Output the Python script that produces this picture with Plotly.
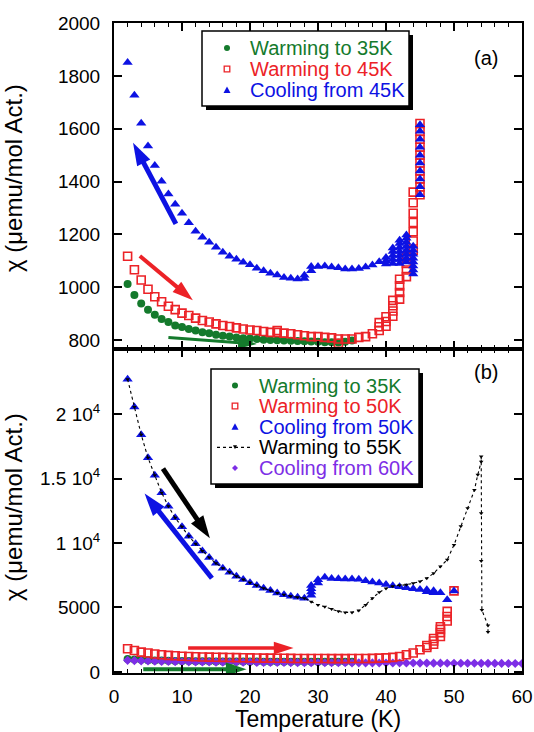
import plotly.graph_objects as go

# ---------------- data ----------------
# Panel (a)
T_a_w35 = list(range(2, 36))
chi_a_w35 = [1012, 970, 938, 915, 896, 880, 868, 855, 849, 842, 836, 829, 826, 820,
             816, 813, 810, 807, 806, 804, 801, 800, 799, 798, 797, 796, 795, 794,
             793, 792, 792, 791, 793, 798]

T_a_w45 = [2, 3, 4, 5, 6, 7, 8, 9, 10, 11, 12, 13, 14, 15, 16, 17, 18, 19, 20, 21, 22, 23,
           24, 24, 25, 26, 27, 28, 29, 30, 31, 32, 33, 33, 34, 35, 36, 37, 38,
           39, 39, 39, 40, 40, 40, 41, 41, 41, 41, 42, 42, 42, 42, 43, 43, 43, 43,
           44, 44, 44, 44, 44, 44, 44,
           45, 45, 45, 45, 45, 45, 45, 45, 45, 45]
chi_a_w45 = [1117, 1066, 1027, 992, 964, 945, 928, 915, 902, 893, 883, 874, 868, 861, 855,
             851, 846, 842, 838, 836, 832, 829,
             829, 836, 826, 824, 820, 816, 813, 813, 810, 808, 804, 788, 804, 804, 810, 813, 824,
             836, 850, 866, 852, 870, 888, 890, 910, 930, 950, 955, 980, 1005, 1030,
             1040, 1065, 1090, 1115,
             1140, 1175, 1210, 1245, 1280, 1320, 1360,
             1350, 1380, 1410, 1440, 1470, 1500, 1530, 1560, 1590, 1620]

T_a_c45 = [2, 3, 4, 5, 6, 7, 8, 9, 10, 11, 12, 13, 14, 15, 16, 17, 18, 19, 20, 21, 22, 23,
           24, 25, 26, 27, 28, 28, 29, 29, 30, 31, 32, 33, 34, 35, 36, 37, 38, 39,
           40, 40, 40, 41, 41, 41, 41, 41, 42, 42, 42, 42, 42, 42, 42,
           43, 43, 43, 43, 43, 43, 43, 43, 44, 44, 44, 44, 44, 44, 44, 44,
           45, 45, 45, 45, 45, 45, 45, 45, 45, 45]
chi_a_c45 = [1851, 1727, 1621, 1535, 1461, 1401, 1353, 1314, 1280, 1244, 1212, 1189, 1170,
             1151, 1132, 1117, 1106, 1094, 1085, 1072, 1062, 1053, 1046, 1037, 1034, 1031,
             1033, 1045, 1062, 1078, 1078, 1080, 1076, 1074, 1069, 1069, 1071, 1076, 1084, 1096,
             1088, 1100, 1112, 1090, 1105, 1120, 1135, 1148,
             1090, 1105, 1120, 1135, 1150, 1165, 1178,
             1095, 1110, 1125, 1140, 1155, 1170, 1185, 1198,
             1050, 1065, 1080, 1095, 1110, 1125, 1140, 1155,
             1350, 1380, 1410, 1440, 1470, 1500, 1530, 1560, 1590, 1615]

# Panel (b)
T_b_w35 = list(range(2, 36))
chi_b_w35 = [1012, 970, 938, 915, 896, 880, 868, 855, 849, 842, 836, 829, 826, 820,
             816, 813, 810, 807, 806, 804, 801, 800, 799, 798, 797, 796, 795, 794,
             793, 792, 792, 791, 793, 798]

T_b_w50 = [2, 3, 4, 5, 6, 7, 8, 9, 10, 11, 12, 13, 14, 15, 16, 17, 18, 19, 20, 21, 22, 23,
           24, 25, 26, 27, 28, 29, 30, 31, 32, 33, 34, 35, 36, 37, 38, 39, 40, 41, 42, 43,
           44, 45, 46, 46, 47, 47, 47, 48, 48, 48, 48, 49, 49, 49, 50]
chi_b_w50 = [1800, 1670, 1540, 1470, 1390, 1340, 1290, 1260, 1220, 1200, 1180, 1160, 1150,
             1140, 1130, 1120, 1110, 1100, 1090, 1080, 1075, 1070, 1065, 1060, 1055, 1050,
             1050, 1045, 1040, 1040, 1035, 1035, 1035, 1040, 1040, 1045, 1055, 1070, 1095,
             1130, 1200, 1340, 1470, 1720, 1900, 2050, 2150, 2400, 2600, 2750, 3050, 3300,
             3500, 3950, 4300, 4700, 6290]

T_b_c50 = [2, 3, 4, 5, 6, 7, 8, 9, 10, 11, 12, 13, 14, 15, 16, 17, 18, 19, 20, 21, 22, 23,
           24, 25, 26, 27, 28, 29, 29, 29, 29, 30, 30, 31, 32, 33, 34, 35, 36, 37, 38, 39,
           40, 41, 42, 43, 44, 45, 46, 46, 47, 47, 48, 49, 50]
chi_b_c50 = [22700, 20550, 18400, 16600, 15250, 13900, 12850, 11950, 11250, 10520, 9950,
             9370, 8870, 8420, 8050, 7730, 7420, 7160, 6910, 6700, 6490, 6310, 6130, 5980,
             5870, 5790, 5720, 5950, 6200, 6450, 6700, 6900, 7150, 7350, 7250, 7220, 7200,
             7200, 7180, 7080, 6980, 6900, 6780, 6680, 6600, 6520, 6460, 6400, 6380, 6220,
             6300, 6150, 6150, 5600, 6280]

T_b_w55 = [2, 3, 4, 5, 6, 7, 8, 9, 10, 11, 12, 13, 14, 15, 16, 17, 18, 19, 20, 21, 22, 23,
           24, 25, 26, 27, 28, 29, 30, 31, 32, 33, 34, 35, 36, 37, 38, 39, 40, 41, 42, 43,
           44, 45, 46, 47, 48, 49, 50, 51, 52, 53, 53.5, 54, 54, 54, 54, 54.1, 55, 55]
chi_b_w55 = [22700, 20550, 18400, 16600, 15250, 13900, 12850, 11950, 11250, 10520, 9950,
             9370, 8870, 8420, 8050, 7730, 7420, 7160, 6910, 6700, 6490, 6310, 6130, 5980,
             5870, 5790, 5720, 5450, 5200, 5050, 4880, 4700, 4620, 4620, 4760, 5200, 5720,
             6180, 6480, 6650, 6720, 6760, 6880, 7020, 7270, 7650, 8170, 8700, 9850, 11300,
             12700, 14100, 15300, 16300, 16700, 12300, 8600, 4800, 3600, 3100]

T_b_c60 = list(range(2, 61))
chi_b_c60 = [900, 880, 862, 846, 832, 820, 810, 801, 793, 786, 780, 774, 769, 764, 760,
             756, 752, 748, 745, 742, 739, 736, 733, 730, 728, 725, 723, 720, 718, 716,
             714, 712, 710, 708, 706, 704, 702, 700, 698, 696, 694, 692, 690, 688, 686,
             684, 682, 680, 678, 676, 674, 672, 670, 668, 666, 664, 662, 660, 658]

# axis ranges and ticks
x_range = [0, 60]
ya_range = [766, 2000.3]
ya_ticks = [800, 1000, 1200, 1400, 1600, 1800, 2000]
yb_range = [-80, 25040]
yb_ticks = [0, 5000, 10000, 15000, 20000]
yb_ticktext = ["0", "5000", "1 10<sup>4</sup>", "1.5 10<sup>4</sup>", "2 10<sup>4</sup>"]

# direction arrows: (colour key, tail T, tail chi, head T, head chi, width)
arrows_a = [("blue", 9.1, 1240, 2.8, 1547, 5),
            ("red", 3.8, 1118, 11.6, 951, 4),
            ("green", 8.0, 810, 21.0, 785, 3)]
arrows_b = [("black", 7.2, 15770, 14.1, 10360, 5),
            ("blue", 14.4, 7270, 4.5, 13840, 5),
            ("red", 10.9, 1850, 26.4, 1850, 3.5),
            ("green", 4.3, 220, 19.5, 220, 4)]

labels_a = ["Warming to 35K", "Warming to 45K", "Cooling from 45K"]
labels_b = ["Warming to 35K", "Warming to 50K", "Cooling from 50K",
            "Warming to 55K", "Cooling from 60K"]

# ---------------- style ----------------
FONT = "Liberation Sans, Arial, Helvetica, sans-serif"
COL = {"green": "#147a2c", "red": "#ec2227", "blue": "#0d12e3",
       "black": "#000000", "purple": "#7d2ee6"}

W, H = 534, 732
ML, MR, MT, MB = 114, 12, 23, 59
PW, PH = W - ML - MR, H - MT - MB
SPLIT_PX = 349


def px(xp):
    return (xp - ML) / PW


def py(yp):
    return (H - MB - yp) / PH


split = py(SPLIT_PX)

fig = go.Figure()

# panel (a)
fig.add_trace(go.Scatter(x=T_a_w35, y=chi_a_w35, mode="markers", name=labels_a[0],
                         marker=dict(symbol="circle", size=8, color=COL["green"]),
                         xaxis="x", yaxis="y", showlegend=False))
fig.add_trace(go.Scatter(x=T_a_w45, y=chi_a_w45, mode="markers", name=labels_a[1],
                         marker=dict(symbol="square-open", size=8, color=COL["red"],
                                     line=dict(width=1.6, color=COL["red"])),
                         xaxis="x", yaxis="y", showlegend=False))
fig.add_trace(go.Scatter(x=T_a_c45, y=chi_a_c45, mode="markers", name=labels_a[2],
                         marker=dict(symbol="triangle-up", size=9, color=COL["blue"]),
                         xaxis="x", yaxis="y", showlegend=False))

# panel (b)
fig.add_trace(go.Scatter(x=T_b_w35, y=chi_b_w35, mode="markers", name=labels_b[0],
                         marker=dict(symbol="circle", size=8, color=COL["green"]),
                         xaxis="x2", yaxis="y2", showlegend=False))
fig.add_trace(go.Scatter(x=T_b_c60, y=chi_b_c60, mode="markers", name=labels_b[4],
                         marker=dict(symbol="diamond", size=7, color=COL["purple"]),
                         xaxis="x2", yaxis="y2", showlegend=False))
fig.add_trace(go.Scatter(x=T_b_w50, y=chi_b_w50, mode="markers", name=labels_b[1],
                         marker=dict(symbol="square-open", size=8, color=COL["red"],
                                     line=dict(width=1.6, color=COL["red"])),
                         xaxis="x2", yaxis="y2", showlegend=False))
fig.add_trace(go.Scatter(x=T_b_c50, y=chi_b_c50, mode="markers", name=labels_b[2],
                         marker=dict(symbol="triangle-up", size=9, color=COL["blue"]),
                         xaxis="x2", yaxis="y2", showlegend=False))
fig.add_trace(go.Scatter(x=T_b_w55, y=chi_b_w55, mode="lines+markers", name=labels_b[3],
                         line=dict(color="black", width=1.1, dash="dot"),
                         marker=dict(symbol="triangle-down", size=4, color="black"),
                         xaxis="x2", yaxis="y2", showlegend=False))

# direction arrows as short line traces ending in an arrow-head marker
for arrows, xa, ya in ((arrows_a, "x", "y"), (arrows_b, "x2", "y2")):
    for key, tx, ty, hx, hy, w in arrows:
        fig.add_trace(go.Scatter(x=[tx, hx], y=[ty, hy], mode="lines+markers",
                                 line=dict(color=COL[key], width=w),
                                 marker=dict(symbol="arrow", size=[0, 13 + 2.2 * w],
                                             angleref="previous", color=COL[key],
                                             opacity=1, line=dict(width=0)),
                                 xaxis=xa, yaxis=ya, showlegend=False, hoverinfo="skip"))

axis_common = dict(showline=True, linewidth=2, linecolor="black", mirror="ticks",
                   ticks="inside", ticklen=8, tickwidth=1.5, tickcolor="black",
                   showgrid=False, zeroline=False, automargin=False,
                   tickfont=dict(family=FONT, size=19, color="black"))
minor_x = dict(dtick=2, ticklen=4, ticks="inside", tickwidth=1.2, tickcolor="black")

fig.update_layout(
    template="none",
    width=W, height=H,
    margin=dict(l=ML, r=MR, t=MT, b=MB, autoexpand=False),
    paper_bgcolor="white", plot_bgcolor="white",
    font=dict(family=FONT, color="black"),
    showlegend=False,
    xaxis=dict(domain=[0, 1], anchor="y", range=x_range, dtick=10, showticklabels=False,
               minor=minor_x, **axis_common),
    yaxis=dict(domain=[split, 1], anchor="x", range=ya_range, tickvals=ya_ticks,
               ticklabelstandoff=8, **axis_common),
    xaxis2=dict(domain=[0, 1], anchor="y2", range=x_range, dtick=10, minor=minor_x,
                ticklabelstandoff=5,
                title=dict(text="Temperature (K)", font=dict(family=FONT, size=23), standoff=9),
                **axis_common),
    yaxis2=dict(domain=[0, split], anchor="x2", range=yb_range, tickvals=yb_ticks,
                ticktext=yb_ticktext, ticklabelstandoff=8, **axis_common),
)

annotations = []

# y-axis titles
ytitle = "\u03c7 (\u03bcemu/mol Act.)"
for yc in (178, 507):
    annotations.append(dict(x=px(13), y=py(yc), xref="paper", yref="paper", text=ytitle,
                            textangle=-90, showarrow=False, xanchor="center", yanchor="middle",
                            font=dict(family=FONT, size=24, color="black")))

# panel labels
annotations.append(dict(x=px(500), y=py(45), xref="paper", yref="paper", text="(a)",
                        showarrow=False, font=dict(family=FONT, size=20, color="black")))
annotations.append(dict(x=px(500), y=py(372), xref="paper", yref="paper", text="(b)",
                        showarrow=False, font=dict(family=FONT, size=20, color="black")))

shapes = []


def legend_box(x0, y0, x1, y1, labels, keys, kinds, rows, gx, tx):
    shapes.append(dict(type="rect", xref="paper", yref="paper", layer="above",
                       x0=px(x0 + 4), x1=px(x1 + 4), y0=py(y0 + 4), y1=py(y1 + 4),
                       fillcolor="black", line=dict(width=0)))
    shapes.append(dict(type="rect", xref="paper", yref="paper", layer="above",
                       x0=px(x0), x1=px(x1), y0=py(y0), y1=py(y1),
                       fillcolor="white", line=dict(color="black", width=1.5)))
    for lab, key, kind, ry in zip(labels, keys, kinds, rows):
        c = COL[key]
        if kind == "circle":
            shapes.append(dict(type="circle", xref="paper", yref="paper", layer="above",
                               x0=px(gx - 3), x1=px(gx + 3), y0=py(ry - 3), y1=py(ry + 3),
                               fillcolor=c, line=dict(width=0)))
        elif kind == "square":
            shapes.append(dict(type="rect", xref="paper", yref="paper", layer="above",
                               x0=px(gx - 2.8), x1=px(gx + 2.8), y0=py(ry - 2.8), y1=py(ry + 2.8),
                               fillcolor="white", line=dict(color=c, width=1.3)))
        elif kind == "triangle":
            path = "M {},{} L {},{} L {},{} Z".format(px(gx), py(ry - 3.5), px(gx - 3.5), py(ry + 3),
                                                   px(gx + 3.5), py(ry + 3))
            shapes.append(dict(type="path", xref="paper", yref="paper", layer="above",
                               path=path, fillcolor=c, line=dict(width=0)))
        elif kind == "diamond":
            path = "M {},{} L {},{} L {},{} L {},{} Z".format(px(gx), py(ry - 3), px(gx + 3), py(ry),
                                                           px(gx), py(ry + 3), px(gx - 3), py(ry))
            shapes.append(dict(type="path", xref="paper", yref="paper", layer="above",
                               path=path, fillcolor=c, line=dict(width=0)))
        elif kind == "line":
            shapes.append(dict(type="line", xref="paper", yref="paper", layer="above",
                               x0=px(gx - 18), x1=px(gx + 17), y0=py(ry), y1=py(ry),
                               line=dict(color=c, width=1.2, dash="dot")))
            path = "M {},{} L {},{} L {},{} Z".format(px(gx - 2), py(ry - 2), px(gx + 2), py(ry - 2),
                                                   px(gx), py(ry + 2))
            shapes.append(dict(type="path", xref="paper", yref="paper", layer="above",
                               path=path, fillcolor=c, line=dict(width=0)))
        annotations.append(dict(x=px(tx), y=py(ry), xref="paper", yref="paper", text=lab,
                                showarrow=False, xanchor="left", yanchor="middle",
                                font=dict(family=FONT, size=20, color=c)))


legend_box(202, 31, 409, 106, labels_a, ["green", "red", "blue"],
           ["circle", "square", "triangle"], [48, 69, 90], 227, 248)
legend_box(211, 369, 419, 484, labels_b, ["green", "red", "blue", "black", "purple"],
           ["circle", "square", "triangle", "line", "diamond"],
           [385.5, 406, 426.7, 447.3, 468], 235, 257)

fig.update_layout(annotations=annotations, shapes=shapes)

# remove the browser's default 8px page margin so the figure sits at the window origin
fig.write_html("out.html", config={"displayModeBar": False},
               post_script="document.body.style.margin='0px';document.body.style.overflow='hidden';")
